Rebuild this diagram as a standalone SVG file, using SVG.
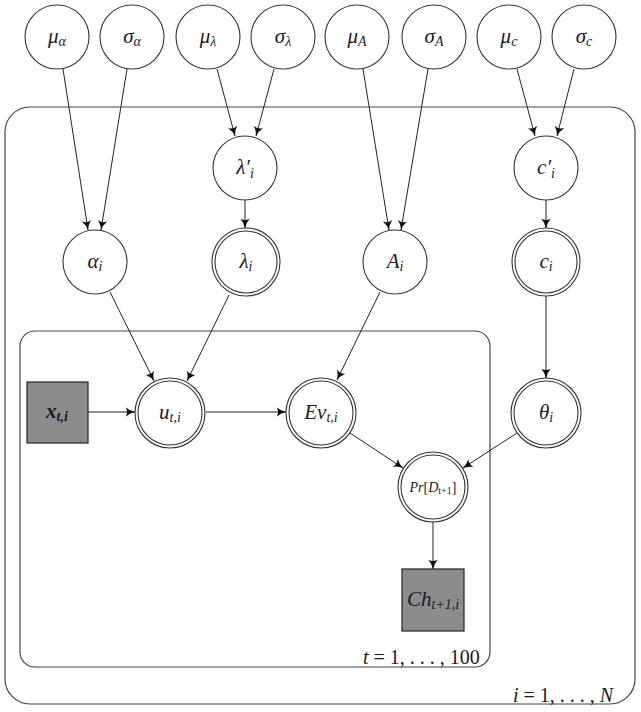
<svg xmlns="http://www.w3.org/2000/svg" width="641" height="712" viewBox="0 0 641 712">
<style>
.n{fill:#fff;stroke:#333;stroke-width:1.1}
.obs{fill:#8c8c8c;stroke:#222;stroke-width:1.2}
.plate{fill:none;stroke:#444;stroke-width:1.2}
.e{fill:none;stroke:#222;stroke-width:1}
.t{font-style:italic;font-size:21px;fill:#1a1a2a;text-anchor:middle}
.s{font-size:14px}
.pl{font-size:20px;fill:#1a1a1a}
</style>
<defs>
<marker id="ar" viewBox="0 0 10 10" refX="9.5" refY="5" markerWidth="10" markerHeight="10" markerUnits="userSpaceOnUse" orient="auto">
<path d="M0,0 Q4,4 10,5 Q4,6 0,10 Q3,5 0,0 z" fill="#111"/>
</marker>
</defs>
<g font-family="Liberation Serif, DejaVu Serif, serif">
<g id="plate-i"><rect class="plate" x="5" y="107" width="630" height="597" rx="25" ry="25"/><text class="pl" x="513" y="702"><tspan font-style="italic">i</tspan> = 1, . . . , <tspan font-style="italic">N</tspan></text></g>
<g id="plate-t"><rect class="plate" x="20" y="331" width="470" height="336" rx="15" ry="15"/><text class="pl" x="363" y="664"><tspan font-style="italic">t</tspan> = 1, . . . , 100</text></g>
<g id="connectors">
<line class="e" x1="63" y1="69" x2="88" y2="230" marker-end="url(#ar)"/>
<line class="e" x1="127" y1="69" x2="101" y2="230" marker-end="url(#ar)"/>
<line class="e" x1="217" y1="69" x2="235" y2="136" marker-end="url(#ar)"/>
<line class="e" x1="274" y1="69" x2="256" y2="136" marker-end="url(#ar)"/>
<line class="e" x1="363" y1="69" x2="389" y2="230" marker-end="url(#ar)"/>
<line class="e" x1="428" y1="69" x2="401" y2="230" marker-end="url(#ar)"/>
<line class="e" x1="517" y1="69" x2="535" y2="136" marker-end="url(#ar)"/>
<line class="e" x1="574" y1="69" x2="557" y2="136" marker-end="url(#ar)"/>
<line class="e" x1="245" y1="200" x2="245" y2="228" marker-end="url(#ar)"/>
<line class="e" x1="546" y1="200" x2="546" y2="228" marker-end="url(#ar)"/>
<line class="e" x1="110" y1="292" x2="154" y2="381" marker-end="url(#ar)"/>
<line class="e" x1="229" y1="295" x2="187" y2="381" marker-end="url(#ar)"/>
<line class="e" x1="380" y1="292" x2="337" y2="380" marker-end="url(#ar)"/>
<line class="e" x1="546" y1="296" x2="546" y2="378" marker-end="url(#ar)"/>
<line class="e" x1="88" y1="412" x2="135" y2="412" marker-end="url(#ar)"/>
<line class="e" x1="206" y1="412" x2="286" y2="412" marker-end="url(#ar)"/>
<line class="e" x1="350" y1="433" x2="403" y2="468" marker-end="url(#ar)"/>
<line class="e" x1="517" y1="433" x2="463" y2="468" marker-end="url(#ar)"/>
<line class="e" x1="433" y1="522" x2="433" y2="569" marker-end="url(#ar)"/>
</g>
<g id="mu-alpha"><circle class="n" cx="57" cy="37" r="32"/><text class="t" x="57" y="43">μ<tspan class="s" dy="3">α</tspan></text></g>
<g id="sigma-alpha"><circle class="n" cx="132" cy="37" r="32"/><text class="t" x="132" y="43">σ<tspan class="s" dy="3">α</tspan></text></g>
<g id="mu-lambda"><circle class="n" cx="208" cy="37" r="32"/><text class="t" x="208" y="43">μ<tspan class="s" dy="3">λ</tspan></text></g>
<g id="sigma-lambda"><circle class="n" cx="283" cy="37" r="32"/><text class="t" x="283" y="43">σ<tspan class="s" dy="3">λ</tspan></text></g>
<g id="mu-A"><circle class="n" cx="357" cy="37" r="32"/><text class="t" x="357" y="43">μ<tspan class="s" dy="3">A</tspan></text></g>
<g id="sigma-A"><circle class="n" cx="434" cy="37" r="32"/><text class="t" x="434" y="43">σ<tspan class="s" dy="3">A</tspan></text></g>
<g id="mu-c"><circle class="n" cx="509" cy="37" r="32"/><text class="t" x="509" y="43">μ<tspan class="s" dy="3">c</tspan></text></g>
<g id="sigma-c"><circle class="n" cx="584" cy="37" r="32"/><text class="t" x="584" y="43">σ<tspan class="s" dy="3">c</tspan></text></g>
<g id="lambda-prime"><circle class="n" cx="245" cy="168" r="32"/><text class="t" x="245" y="174">λ′<tspan class="s" dy="4">i</tspan></text></g>
<g id="c-prime"><circle class="n" cx="546" cy="168" r="32"/><text class="t" x="546" y="174">c′<tspan class="s" dy="4">i</tspan></text></g>
<g id="alpha-i"><circle class="n" cx="95" cy="262" r="32"/><text class="t" x="95" y="268">α<tspan class="s" dy="3">i</tspan></text></g>
<g id="lambda-i"><circle class="n" cx="246" cy="262" r="34"/><circle class="n" cx="246" cy="262" r="31"/><text class="t" x="246" y="268">λ<tspan class="s" dy="3">i</tspan></text></g>
<g id="A-i"><circle class="n" cx="395" cy="262" r="32"/><text class="t" x="395" y="268">A<tspan class="s" dy="3">i</tspan></text></g>
<g id="c-i"><circle class="n" cx="546" cy="262" r="34"/><circle class="n" cx="546" cy="262" r="31"/><text class="t" x="546" y="268">c<tspan class="s" dy="3">i</tspan></text></g>
<g id="x-ti"><rect class="obs" x="27" y="382" width="61" height="61"/><text class="t" x="57" y="418" font-weight="bold">x<tspan class="s" dy="3">t,i</tspan></text></g>
<g id="u-ti"><circle class="n" cx="170" cy="413" r="35"/><circle class="n" cx="170" cy="413" r="32"/><text class="t" x="170" y="419">u<tspan class="s" dy="3">t,i</tspan></text></g>
<g id="Ev-ti"><circle class="n" cx="321" cy="413" r="35"/><circle class="n" cx="321" cy="413" r="32"/><text class="t" x="321" y="419">Ev<tspan class="s" dy="3">t,i</tspan></text></g>
<g id="theta-i"><circle class="n" cx="546" cy="413" r="35"/><circle class="n" cx="546" cy="413" r="32"/><text class="t" x="546" y="419">θ<tspan class="s" dy="3">i</tspan></text></g>
<g id="Pr-D"><circle class="n" cx="433" cy="487" r="35"/><circle class="n" cx="433" cy="487" r="32"/><text class="t" x="433" y="492" style="font-size:14px">Pr<tspan font-style="normal">[</tspan>D<tspan style="font-size:10px" font-style="normal" dy="2">t+1</tspan><tspan font-style="normal" dy="-2">]</tspan></text></g>
<g id="Ch"><rect class="obs" x="402" y="569" width="62" height="62"/><text class="t" x="433" y="606">Ch<tspan class="s" dy="3">t+1,i</tspan></text></g>
</g>
</svg>
